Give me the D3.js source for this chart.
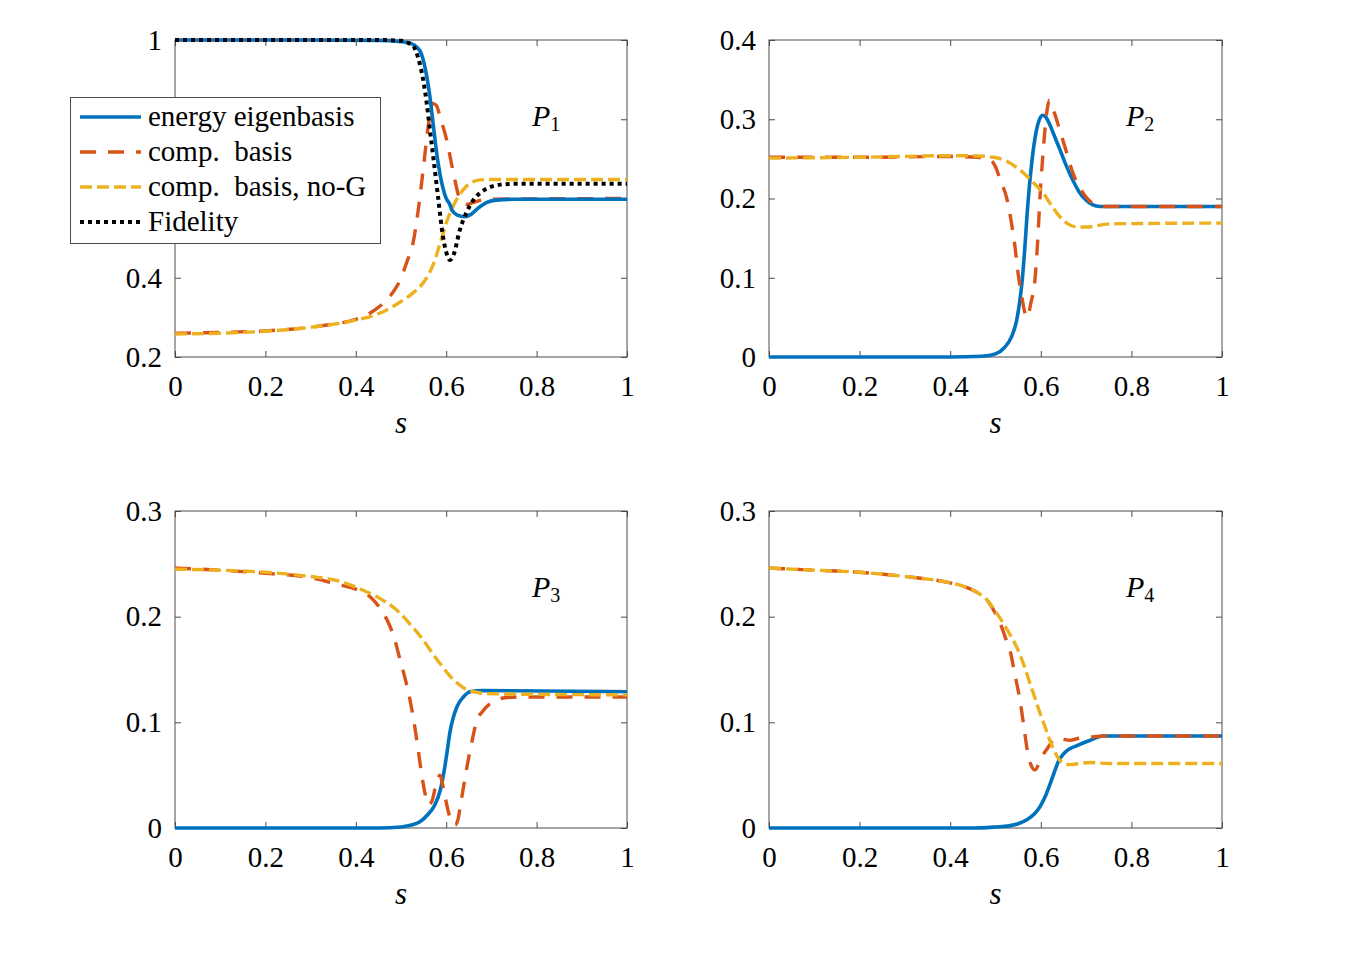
<!DOCTYPE html>
<html>
<head>
<meta charset="utf-8">
<script src="https://cdn.jsdelivr.net/npm/d3@7"></script>
<style>
  body { margin: 0; background: #fff; }
  svg text { font-family: "Liberation Serif", "DejaVu Serif", serif; fill: #000; }
</style>
</head>
<body>
<svg id="chart" width="1350" height="975"></svg>
<script>
// ---- data: [s, value] pairs ----
const xTicks = [0, 0.2, 0.4, 0.6, 0.8, 1];

const p1Energy = [[0,1],[0.3,1],[0.45,0.999],[0.5,0.996],[0.52,0.992],[0.535,0.982],[0.545,0.965],[0.555,0.92],[0.564,0.857],[0.573,0.77],[0.582,0.69],[0.592,0.63],[0.6,0.6],[0.608,0.585],[0.613,0.57],[0.625,0.558],[0.64,0.554],[0.655,0.56],[0.67,0.575],[0.69,0.59],[0.71,0.596],[0.75,0.598],[1,0.598]];
const p1Comp = [[0,0.26],[0.1,0.262],[0.2,0.266],[0.3,0.275],[0.35,0.283],[0.4,0.295],[0.43,0.31],[0.455,0.33],[0.48,0.36],[0.498,0.394],[0.513,0.44],[0.527,0.49],[0.538,0.57],[0.549,0.672],[0.56,0.78],[0.57,0.84],[0.578,0.835],[0.588,0.8],[0.601,0.748],[0.616,0.664],[0.63,0.6],[0.645,0.585],[0.66,0.59],[0.69,0.598],[1,0.6]];
const p1NoG = [[0,0.258],[0.1,0.26],[0.2,0.265],[0.3,0.275],[0.4,0.293],[0.454,0.311],[0.5,0.34],[0.53,0.365],[0.549,0.387],[0.57,0.43],[0.59,0.5],[0.6,0.538],[0.615,0.58],[0.637,0.621],[0.655,0.64],[0.675,0.647],[0.7,0.648],[1,0.648]];
const p1Fidelity = [[0,1],[0.45,1],[0.5,0.998],[0.515,0.993],[0.527,0.985],[0.538,0.955],[0.549,0.9],[0.557,0.84],[0.564,0.773],[0.573,0.69],[0.582,0.604],[0.593,0.503],[0.6,0.465],[0.608,0.445],[0.617,0.46],[0.63,0.52],[0.645,0.565],[0.66,0.596],[0.68,0.618],[0.7,0.63],[0.72,0.635],[0.75,0.637],[1,0.637]];

const p2Energy = [[0,0],[0.4,0],[0.47,0.001],[0.5,0.004],[0.52,0.012],[0.535,0.025],[0.547,0.047],[0.553,0.068],[0.559,0.097],[0.565,0.14],[0.57,0.182],[0.58,0.245],[0.59,0.285],[0.598,0.301],[0.605,0.305],[0.612,0.302],[0.62,0.293],[0.63,0.279],[0.642,0.262],[0.655,0.243],[0.67,0.224],[0.685,0.208],[0.7,0.198],[0.715,0.192],[0.73,0.19],[1,0.19]];
const p2Comp = [[0,0.252],[0.2,0.252],[0.4,0.253],[0.46,0.252],[0.49,0.248],[0.5,0.24],[0.51,0.224],[0.525,0.2],[0.535,0.17],[0.543,0.139],[0.55,0.105],[0.558,0.076],[0.564,0.058],[0.57,0.05],[0.578,0.068],[0.587,0.097],[0.593,0.145],[0.598,0.2],[0.604,0.25],[0.609,0.286],[0.614,0.312],[0.619,0.324],[0.63,0.308],[0.642,0.286],[0.657,0.258],[0.671,0.232],[0.69,0.21],[0.715,0.194],[0.74,0.19],[1,0.19]];
const p2NoG = [[0,0.251],[0.2,0.252],[0.4,0.254],[0.45,0.254],[0.495,0.252],[0.525,0.247],[0.554,0.236],[0.58,0.222],[0.605,0.207],[0.625,0.19],[0.642,0.177],[0.66,0.168],[0.68,0.164],[0.7,0.164],[0.753,0.168],[1,0.169]];

const p3Energy = [[0,0],[0.45,0],[0.5,0.001],[0.525,0.003],[0.542,0.006],[0.56,0.013],[0.575,0.022],[0.587,0.036],[0.597,0.058],[0.603,0.075],[0.608,0.09],[0.616,0.105],[0.624,0.115],[0.638,0.124],[0.653,0.129],[0.68,0.13],[1,0.129]];
const p3Comp = [[0,0.246],[0.1,0.244],[0.2,0.241],[0.3,0.237],[0.365,0.23],[0.4,0.226],[0.431,0.219],[0.45,0.21],[0.469,0.197],[0.485,0.18],[0.498,0.159],[0.51,0.14],[0.52,0.121],[0.53,0.097],[0.538,0.074],[0.546,0.05],[0.553,0.033],[0.56,0.022],[0.568,0.025],[0.578,0.042],[0.586,0.05],[0.595,0.035],[0.605,0.015],[0.613,0.005],[0.62,0.003],[0.626,0.008],[0.631,0.02],[0.638,0.038],[0.646,0.058],[0.657,0.082],[0.668,0.102],[0.68,0.11],[0.69,0.115],[0.708,0.12],[0.726,0.123],[0.76,0.124],[1,0.124]];
const p3NoG = [[0,0.245],[0.1,0.244],[0.2,0.242],[0.3,0.238],[0.36,0.234],[0.416,0.225],[0.45,0.218],[0.491,0.206],[0.52,0.193],[0.549,0.178],[0.57,0.165],[0.593,0.152],[0.61,0.143],[0.631,0.135],[0.645,0.131],[0.66,0.129],[0.7,0.127],[1,0.126]];

const p4Energy = [[0,0],[0.45,0],[0.5,0.001],[0.53,0.002],[0.55,0.004],[0.57,0.008],[0.585,0.013],[0.598,0.02],[0.61,0.03],[0.62,0.041],[0.63,0.053],[0.64,0.064],[0.65,0.07],[0.66,0.074],[0.68,0.078],[0.709,0.083],[0.737,0.087],[0.76,0.087],[1,0.087]];
const p4Comp = [[0,0.246],[0.1,0.244],[0.2,0.242],[0.3,0.238],[0.4,0.232],[0.428,0.229],[0.455,0.224],[0.481,0.216],[0.5,0.203],[0.51,0.194],[0.522,0.18],[0.532,0.168],[0.543,0.145],[0.554,0.121],[0.562,0.098],[0.57,0.074],[0.578,0.06],[0.587,0.055],[0.598,0.063],[0.606,0.07],[0.614,0.075],[0.625,0.082],[0.636,0.085],[0.65,0.084],[0.664,0.083],[0.685,0.085],[0.709,0.086],[0.74,0.087],[1,0.087]];
const p4NoG = [[0,0.246],[0.1,0.244],[0.2,0.242],[0.3,0.238],[0.4,0.232],[0.428,0.229],[0.455,0.224],[0.481,0.216],[0.5,0.205],[0.517,0.194],[0.532,0.183],[0.547,0.171],[0.562,0.155],[0.576,0.137],[0.588,0.122],[0.598,0.109],[0.61,0.095],[0.62,0.083],[0.632,0.071],[0.642,0.064],[0.653,0.061],[0.664,0.06],[0.685,0.061],[0.709,0.062],[0.75,0.061],[1,0.061]];

const legendLabels = ["energy eigenbasis", "comp.  basis", "comp.  basis, no-G", "Fidelity"];

// line styles (MATLAB default colours)
const styles = {
  energy:   { color: "#0072BD", width: 3.6, dash: null },
  comp:     { color: "#D95319", width: 3.4, dash: "16,12" },
  nog:      { color: "#EDB120", width: 3.4, dash: "12,5" },
  fidelity: { color: "#000000", width: 4,   dash: "4,4" }
};

const serif = '"Liberation Serif", "DejaVu Serif", serif';

// y labels 0.6 and 0.8 of the first panel sit under the legend, so they are not drawn
const panels = [
  { box: [175, 627, 40, 357],  yDomain: [0.2, 1], yTicks: [0.2, 0.4, 0.6, 0.8, 1], hidden: [0.6, 0.8], sub: "1",
    series: [["comp", p1Comp], ["nog", p1NoG], ["energy", p1Energy], ["fidelity", p1Fidelity]] },
  { box: [769, 1222, 40, 357], yDomain: [0, 0.4], yTicks: [0, 0.1, 0.2, 0.3, 0.4], hidden: [], sub: "2",
    series: [["energy", p2Energy], ["comp", p2Comp], ["nog", p2NoG]] },
  { box: [175, 627, 511, 828], yDomain: [0, 0.3], yTicks: [0, 0.1, 0.2, 0.3], hidden: [], sub: "3",
    series: [["energy", p3Energy], ["comp", p3Comp], ["nog", p3NoG]] },
  { box: [769, 1222, 511, 828], yDomain: [0, 0.3], yTicks: [0, 0.1, 0.2, 0.3], hidden: [], sub: "4",
    series: [["energy", p4Energy], ["comp", p4Comp], ["nog", p4NoG]] }
];

const fmt = (d) => String(+d.toFixed(1));
const svg = d3.select("#chart");
svg.append("rect").attr("width", 1350).attr("height", 975).attr("fill", "#fff");

panels.forEach((p) => {
  const [x0, x1, y0, y1] = p.box;
  const x = d3.scaleLinear().domain([0, 1]).range([x0, x1]);
  const y = d3.scaleLinear().domain(p.yDomain).range([y1, y0]);
  const g = svg.append("g");
  const tickLen = 6;
  const yFmt = (d) => (p.hidden.includes(d) ? "" : fmt(d));

  // bottom / top axes (ticks inward)
  g.append("g").attr("transform", `translate(0,${y1})`)
    .call(d3.axisBottom(x).tickValues(xTicks).tickSize(-tickLen).tickPadding(18).tickFormat(fmt))
    .call((a) => a.select(".domain").remove());
  g.append("g").attr("transform", `translate(0,${y0})`)
    .call(d3.axisTop(x).tickValues(xTicks).tickSize(-tickLen).tickFormat(""))
    .call((a) => a.select(".domain").remove());
  // left / right axes
  g.append("g").attr("transform", `translate(${x0},0)`)
    .call(d3.axisLeft(y).tickValues(p.yTicks).tickSize(-tickLen).tickPadding(13).tickFormat(yFmt))
    .call((a) => a.select(".domain").remove());
  g.append("g").attr("transform", `translate(${x1},0)`)
    .call(d3.axisRight(y).tickValues(p.yTicks).tickSize(-tickLen).tickFormat(""))
    .call((a) => a.select(".domain").remove());

  g.selectAll(".tick line").attr("stroke", "#4d4d4d");
  g.selectAll(".tick text")
    .style("font-family", serif)
    .style("font-size", "29px");

  // box
  g.append("rect")
    .attr("x", x0).attr("y", y0).attr("width", x1 - x0).attr("height", y1 - y0)
    .attr("fill", "none").attr("stroke", "#4d4d4d").attr("stroke-width", 1);

  // x label
  g.append("text")
    .attr("x", (x0 + x1) / 2).attr("y", y1 + 76)
    .attr("text-anchor", "middle")
    .style("font-family", serif)
    .style("font-size", "31px").style("font-style", "italic")
    .text("s");

  // panel label P_n
  const lab = g.append("text")
    .attr("x", x0 + 357).attr("y", y0 + 86)
    .style("font-family", serif)
    .style("font-size", "30px");
  lab.append("tspan").style("font-style", "italic").text("P");
  lab.append("tspan").attr("dy", 5).attr("dx", 0).style("font-size", "20px").text(p.sub);

  // lines
  const line = d3.line().x((d) => x(d[0])).y((d) => y(d[1])).curve(d3.curveMonotoneX);
  p.series.forEach(([key, data]) => {
    const st = styles[key];
    g.append("path")
      .datum(data)
      .attr("d", line)
      .attr("fill", "none")
      .attr("stroke", st.color)
      .attr("stroke-width", st.width)
      .attr("stroke-dasharray", st.dash)
      .attr("stroke-linejoin", "round");
  });
});

// legend (top-left panel)
const lg = svg.append("g");
lg.append("rect")
  .attr("x", 70.5).attr("y", 97.5).attr("width", 310).attr("height", 146)
  .attr("fill", "#fff").attr("stroke", "#4d4d4d").attr("stroke-width", 1);
const legendKeys = ["energy", "comp", "nog", "fidelity"];
legendKeys.forEach((key, i) => {
  const st = styles[key];
  const cy = 117 + i * 35;
  lg.append("line")
    .attr("x1", 80).attr("x2", 141).attr("y1", cy).attr("y2", cy)
    .attr("stroke", st.color).attr("stroke-width", st.width)
    .attr("stroke-dasharray", st.dash);
  lg.append("text")
    .attr("x", 148).attr("y", cy + 9)
    .attr("xml:space", "preserve")
    .style("white-space", "pre")
    .style("font-family", serif)
    .style("font-size", "29px")
    .text(legendLabels[i]);
});
</script>
</body>
</html>
